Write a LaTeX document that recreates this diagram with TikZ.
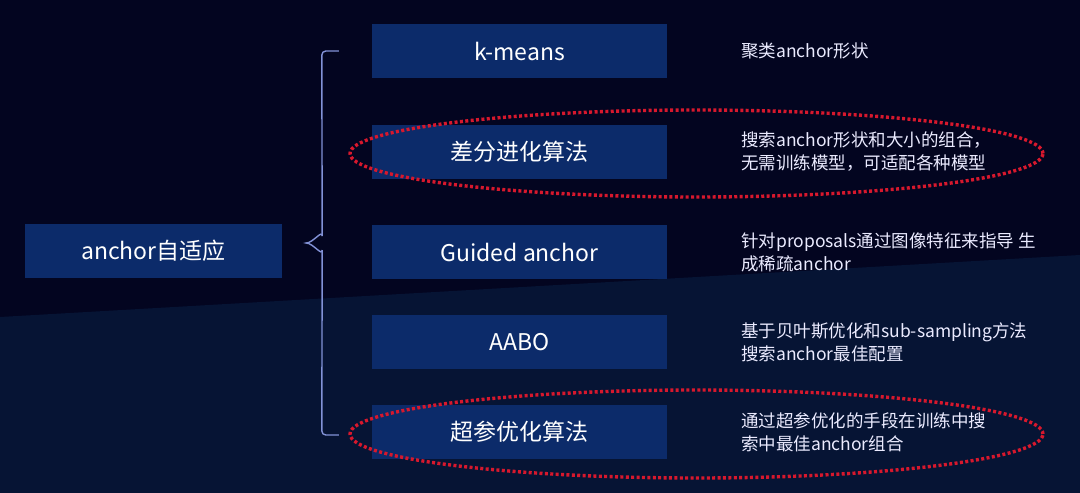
\documentclass[tikz,border=0pt]{standalone}
\usepackage{fontspec}
\setmainfont{Noto Sans CJK SC}
\usetikzlibrary{calc}

\definecolor{bgoben}{RGB}{3,5,32}
\definecolor{bgunten}{RGB}{6,20,52}
\definecolor{boxblau}{RGB}{12,43,106}
\definecolor{klammer}{RGB}{130,146,215}
\definecolor{markrot}{RGB}{215,24,45}

\tikzset{
  kasten/.style={fill=boxblau, text=white, minimum height=54pt, inner sep=0pt,
    font=\fontsize{23}{27}\selectfont},
  methode/.style={kasten, minimum width=295pt},
  beschr/.style={anchor=west, align=left, text=white!92!blue, inner sep=0pt,
    font=\fontsize{17.5}{23}\selectfont},
  markierung/.style={markrot, line width=3.4pt, dash pattern=on 3pt off 2.4pt},
}

\begin{document}
\begin{tikzpicture}[x=1pt,y=-1pt]

% ---------- Parameter (Spalten) ----------
\def\xbox{519.5}
\def\xinfo{741}

% Hintergrund (oben dunkel, unten etwas heller)
\fill[bgoben] (0,0) rectangle (1080,493);
\fill[bgunten] (0,317) -- (1080,255) -- (1080,493) -- (0,493) -- cycle;

% ===================
% links: Wurzel
% ===================
\node[kasten, minimum width=257pt] (root) at (153.5,251) {anchor自适应};

% ===================
% rechts: Methoden + Beschreibung
% ===================
\foreach \n/\y/\titel/\inhalt in {
    km/51/{k-means}/{聚类anchor形状},
    de/152/{差分进化算法}/{搜索anchor形状和大小的组合，\\无需训练模型，可适配各种模型},
    ga/252/{Guided anchor}/{针对proposals通过图像特征来指导 生\\成稀疏anchor},
    aabo/342/{AABO}/{基于贝叶斯优化和sub-sampling方法\\搜索anchor最佳配置},
    hpo/432/{超参优化算法}/{通过超参优化的手段在训练中搜\\索中最佳anchor组合}}{
  \node[methode] (\n) at (\xbox,\y) {\titel};
  \node[beschr] (\n-info) at (\xinfo,\y) {\inhalt};
}

% Klammer
\coordinate (kl-oben) at ($(km.west)+(-33,0)$);
\coordinate (kl-unten) at ($(hpo.west)+(-33,3)$);
\coordinate (kl-spitze) at ($(root.east)+(24,-8)$);
\draw[klammer, line width=1.4pt, rounded corners=4pt]
  (kl-oben) -- ++(-17,0) -- ($(kl-spitze)+(16,-7)$);
\draw[klammer, line width=1.4pt]
  ($(kl-spitze)+(16,-7)$) to[out=90,in=0] (kl-spitze)
  to[out=0,in=270] ($(kl-spitze)+(16,7)$);
\draw[klammer, line width=1.4pt, rounded corners=4pt]
  ($(kl-spitze)+(16,7)$) -- ($(kl-unten)+(-17,0)$) -- (kl-unten);

% rote Markierungen
\draw[markierung] (696.5,153.5) ellipse [x radius=346.5pt, y radius=43.5pt];
\draw[markierung] (696.5,434) ellipse [x radius=346.5pt, y radius=44pt];

\end{tikzpicture}
\end{document}
